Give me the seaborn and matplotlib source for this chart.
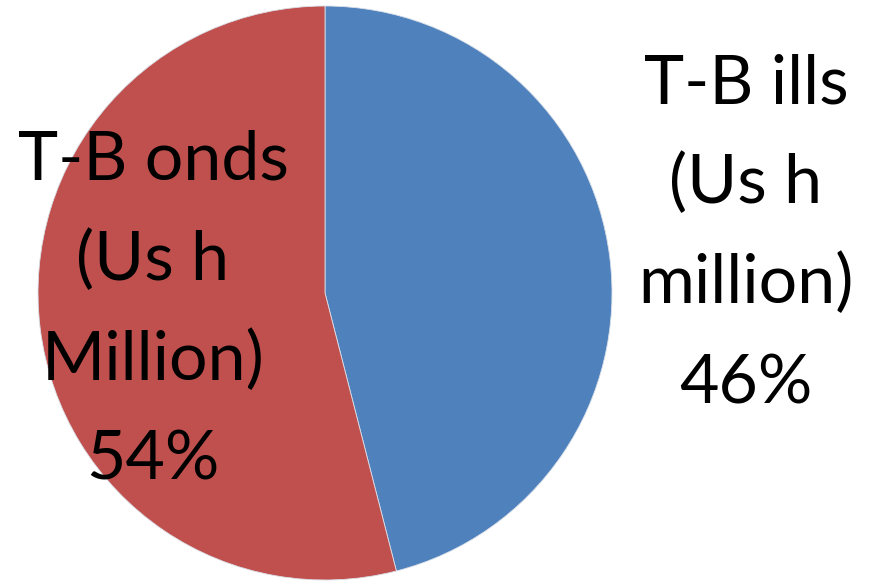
import matplotlib
matplotlib.use("Agg")
import matplotlib.pyplot as plt
import seaborn as sns

# slice data (clockwise from 12 o'clock)
labels = ["T-B ills\n(Us h\nmillion)", "T-B onds\n(Us h\nMillion)"]
shares = [46, 54]
colors = ["#4F81BD", "#C0504D"]

sns.set_theme(style="white")
plt.rcParams['font.family'] = ['Lato', 'DejaVu Sans']

W, H = 874, 581
fig = plt.figure(figsize=(W / 100, H / 100), dpi=100)
fig.patch.set_facecolor("white")

# pie: centre about (325, 293) px, radius about 287 px
ax = fig.add_axes([38 / W, 1 / H, 574 / W, 574 / H])
ax.pie(shares, colors=colors, startangle=90, counterclock=False,
       wedgeprops=dict(edgecolor="#d9dfe8", linewidth=0.6))
ax.set_xlim(-1, 1)
ax.set_ylim(-1, 1)
ax.axis("off")

# data labels: centre x and first baseline in pixels
label_pos = [(746, 103), (153, 180)]
line_step = 100
for lab, val, (cx, by) in zip(labels, shares, label_pos):
    lines = lab.split("\n") + [f"{val}%"]
    for i, line in enumerate(lines):
        fig.text(cx / W, 1 - (by + i * line_step) / H, line,
                 ha="center", va="baseline", fontsize=49, color="black")

fig.savefig("out.png", dpi=100, facecolor="white")
